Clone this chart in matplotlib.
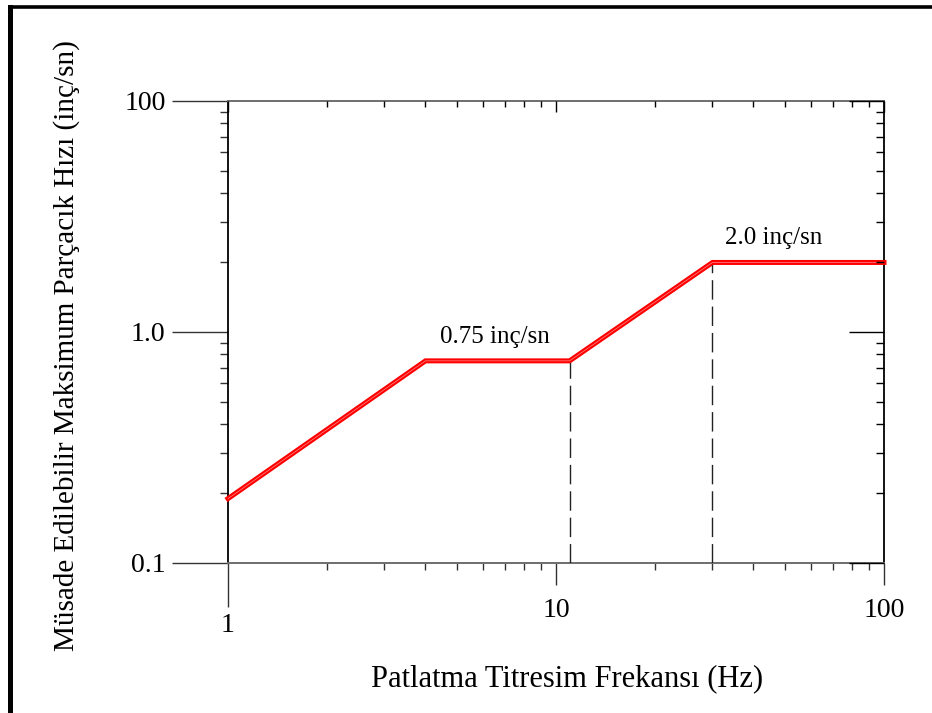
import numpy as np
import matplotlib
matplotlib.use("Agg")
import matplotlib.pyplot as plt
from matplotlib.ticker import FixedLocator, LogLocator, NullFormatter
from matplotlib.lines import Line2D
from matplotlib.transforms import ScaledTranslation

plt.rcParams['font.family'] = ['Liberation Serif', 'DejaVu Serif']

# Müsade edilebilir sınır eğrisi (frekans Hz, hız inç/sn)
frekans = [1, 4, 11, 30, 100]
hiz = [0.19, 0.75, 0.75, 2.0, 2.0]

# kesikli çizgilerin düştüğü kırılma noktaları
kirilma_frekans = [11, 30]
kirilma_hiz = [0.75, 2.0]

# yatay bölümlerin etiketleri
etiketler = ["0.75 inç/sn", "2.0 inç/sn"]

x_ticks = [1, 10, 100]
x_tick_labels = ["1", "10", "100"]
y_ticks = [0.1, 1, 10]
y_tick_labels = ["0.1", "1.0", "100"]

W, H = 932, 713
fig = plt.figure(figsize=(W / 100, H / 100), dpi=100)
ax = fig.add_axes([228 / W, 150 / H, 656 / W, 462 / H])
ax.set_xscale('log')
ax.set_yscale('log')
ax.set_xlim(1, 100)
ax.set_ylim(0.1, 10)

# eğri: kalın kırmızı + ince açık iç çizgi
ax.plot(frekans, hiz, color='#ff0000', lw=3.6, solid_joinstyle='miter', clip_on=False, zorder=5)
ax.plot(frekans, hiz, color='#ff8c8c', lw=0.5, clip_on=False, zorder=6)

ax.vlines(kirilma_frekans, 0.1, kirilma_hiz, colors='#222222', lw=1.0,
          linestyles=(0, (14, 5)), zorder=3)

# etiketler
x0 = np.sqrt(frekans[1] * frekans[2])
ax.annotate(etiketler[0], xy=(x0, hiz[1]), xytext=(-2, 9), textcoords='offset points',
            ha='center', va='bottom', fontsize=18)
ax.annotate(etiketler[1], xy=(frekans[3], hiz[3]), xytext=(9, 10), textcoords='offset points',
            ha='left', va='bottom', fontsize=18)

# sol ve alt eksen
ax.xaxis.set_major_locator(FixedLocator(x_ticks))
ax.set_xticklabels(x_tick_labels)
ax.xaxis.set_minor_locator(LogLocator(base=10, subs=np.arange(2, 10)))
ax.xaxis.set_minor_formatter(NullFormatter())
ax.yaxis.set_major_locator(FixedLocator(y_ticks))
ax.set_yticklabels(y_tick_labels)
ax.yaxis.set_minor_locator(LogLocator(base=10, subs=np.arange(2, 10)))
ax.yaxis.set_minor_formatter(NullFormatter())

ax.tick_params(axis='y', which='major', direction='out', length=40, width=1.0,
               labelsize=20, pad=5, color='#333333')
ax.tick_params(axis='y', which='minor', direction='out', length=5.5, width=1.0, color='#333333')
ax.tick_params(axis='x', which='major', direction='out', length=16, width=1.0,
               labelsize=20, pad=9, color='#333333')
ax.tick_params(axis='x', which='minor', direction='out', length=5, width=1.0, color='#333333')

# x=1 çentiği daha uzun, etiketi biraz aşağıda
t0 = ax.xaxis.get_major_ticks()[0]
t0.tick1line.set_markersize(32)
t0.label1.set_transform(t0.label1.get_transform() + ScaledTranslation(0, -0.15, fig.dpi_scale_trans))

# sağ ve üst eksen (içe dönük çentikler)
axr = ax.twinx()
axr.set_yscale('log')
axr.set_ylim(0.1, 10)
axr.yaxis.set_major_locator(FixedLocator(y_ticks))
axr.yaxis.set_minor_locator(LogLocator(base=10, subs=np.arange(2, 10)))
axr.yaxis.set_minor_formatter(NullFormatter())
axr.tick_params(axis='y', which='major', direction='in', length=25, width=1.0, labelright=False)
axr.tick_params(axis='y', which='minor', direction='in', length=6, width=1.0)

axt = ax.twiny()
axt.set_xscale('log')
axt.set_xlim(1, 100)
axt.xaxis.set_major_locator(FixedLocator(x_ticks))
axt.xaxis.set_minor_locator(LogLocator(base=10, subs=np.arange(2, 10)))
axt.xaxis.set_minor_formatter(NullFormatter())
axt.tick_params(axis='x', which='major', direction='in', length=8, width=1.0, labeltop=False)
axt.tick_params(axis='x', which='minor', direction='in', length=4, width=1.0)

for a in (axr, axt):
    for s in a.spines.values():
        s.set_visible(False)
for side in ('top', 'bottom'):
    ax.spines[side].set_color('#6e6e6e')
    ax.spines[side].set_linewidth(1.4)
for side in ('left', 'right'):
    ax.spines[side].set_color('black')
    ax.spines[side].set_linewidth(1.3)

ax.set_xlabel("Patlatma Titresim Frekansı (Hz)", fontsize=22)
ax.xaxis.set_label_coords(0.517, -0.219)
ax.set_ylabel("Müsade Edilebilir Maksimum Parçacık Hızı (inç/sn)", fontsize=21)
ax.yaxis.set_label_coords(-0.2256, 0.47)

# dış çerçeve
fig.add_artist(Line2D([9.5 / W, 9.5 / W], [0, 1 - 6.5 / H], transform=fig.transFigure,
                      color='black', lw=3.6, solid_capstyle='projecting'))
fig.add_artist(Line2D([9.5 / W, 1], [1 - 6.5 / H, 1 - 6.5 / H], transform=fig.transFigure,
                      color='black', lw=2.6, solid_capstyle='projecting'))

fig.savefig("out.png", dpi=100)
